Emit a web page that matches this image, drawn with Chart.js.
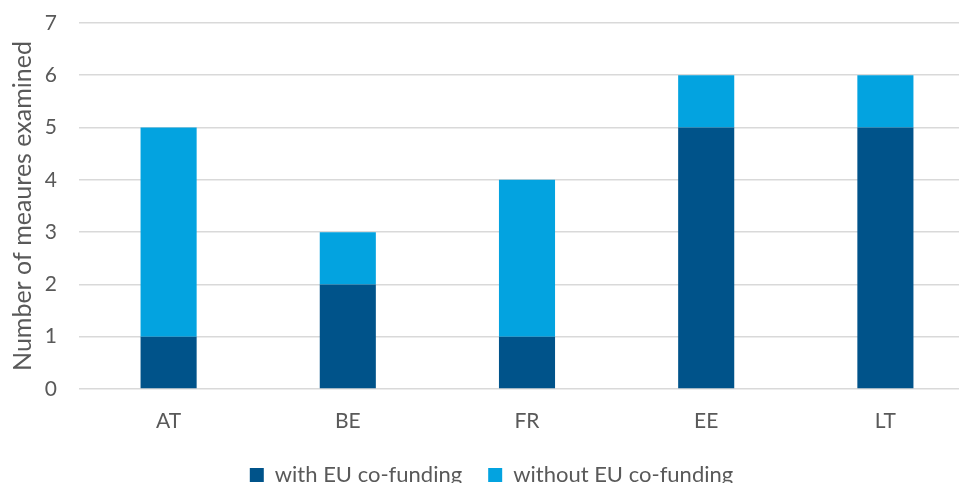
<!DOCTYPE html>
<html>
<head>
<meta charset="utf-8">
<script src="https://cdn.jsdelivr.net/npm/chart.js@4"></script>
<style>
html,body{margin:0;padding:0;background:#fff;overflow:hidden;}
#wrap{position:absolute;left:0;top:0;width:975px;height:496px;}
</style>
</head>
<body>
<div id="wrap"><canvas id="c" width="975" height="496"></canvas></div>
<script>
const categories = ["AT", "BE", "FR", "EE", "LT"];
const withEU = [1, 2, 1, 5, 5];
const withoutEU = [4, 1, 3, 1, 1];
const seriesLabels = ["with EU co-funding", "without EU co-funding"];
const yTicks = [0, 1, 2, 3, 4, 5, 6, 7];

const FONT = "Lato, 'Open Sans', sans-serif";
const TXT = "#595959";

new Chart(document.getElementById('c'), {
  type: 'bar',
  data: {
    labels: categories,
    datasets: [
      { label: seriesLabels[0], data: withEU, backgroundColor: '#00538A', borderWidth: 0 },
      { label: seriesLabels[1], data: withoutEU, backgroundColor: '#03A3E0', borderWidth: 0 }
    ]
  },
  options: {
    responsive: false,
    animation: false,
    devicePixelRatio: 1,
    layout: { padding: { top: 23, left: 8, right: 0, bottom: 0 } },
    datasets: { bar: { categoryPercentage: 1, barPercentage: 0.313 } },
    scales: {
      x: {
        stacked: true,
        grid: { display: false, drawTicks: false },
        border: { display: false },
        ticks: { color: TXT, font: { family: FONT, size: 21 }, padding: 20 },
        afterFit: s => { s.height = 49; s.paddingLeft = 0; s.paddingRight = 0; }
      },
      y: {
        stacked: true,
        min: 0, max: 7,
        afterBuildTicks: s => { s.ticks = yTicks.map(v => ({ value: v })); },
        grid: { color: '#d9d9d9', lineWidth: 1.6, drawTicks: false },
        border: { display: false },
        ticks: { color: TXT, font: { family: FONT, size: 21 }, padding: 22 },
        title: { display: true, text: 'Number of meaures examined', color: TXT, font: { family: FONT, size: 25 }, padding: 0 },
        afterFit: s => { s.width = 71; s.paddingTop = 0; s.paddingBottom = 0; }
      }
    },
    plugins: {
      legend: {
        position: 'bottom',
        labels: { color: TXT, font: { family: FONT, size: 22 }, boxWidth: 14, boxHeight: 14, padding: 26 }
      },
      tooltip: { enabled: false }
    }
  }
});
</script>
</body>
</html>
